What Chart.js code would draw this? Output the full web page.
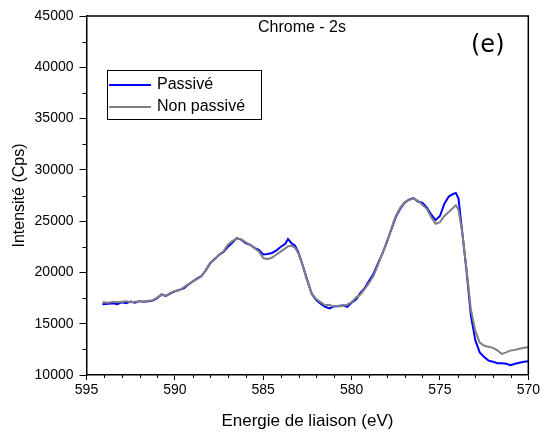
<!DOCTYPE html>
<html><head><meta charset="utf-8">
<script src="https://cdn.jsdelivr.net/npm/chart.js@4"></script>
<style>html,body{margin:0;padding:0;background:#fff}canvas{display:block}</style>
</head><body>
<canvas id="c" width="542" height="432"></canvas>
<script>
const energies = [594.1,593.75,593.5,593.25,593.0,592.75,592.5,592.25,592.0,591.75,591.5,591.25,591.0,590.75,590.5,590.25,590.0,589.75,589.5,589.25,589.0,588.75,588.5,588.25,588.0,587.75,587.5,587.25,587.0,586.75,586.5,586.25,586.0,585.75,585.5,585.25,585.0,584.75,584.5,584.25,584.0,583.75,583.6,583.4,583.2,583.0,582.75,582.5,582.25,582.0,581.75,581.5,581.25,581.0,580.75,580.5,580.25,580.0,579.75,579.5,579.25,579.0,578.75,578.5,578.25,578.0,577.75,577.5,577.25,577.0,576.75,576.5,576.25,576.0,575.75,575.5,575.25,575.0,574.75,574.5,574.25,574.1,573.95,573.75,573.5,573.25,573.0,572.75,572.5,572.25,572.0,571.75,571.5,571.25,571.0,570.75,570.5,570.25,570.0];
const passive = [16900,16950,17000,16900,17100,17000,17150,17050,17200,17150,17200,17250,17500,17850,17700,17950,18150,18300,18450,18800,19100,19400,19650,20200,20900,21300,21700,22000,22500,22900,23350,23200,22850,22700,22400,22200,21750,21800,21900,22150,22500,22800,23250,22850,22600,21900,20600,19200,17900,17300,16950,16650,16500,16700,16700,16800,16650,17050,17350,18000,18500,19200,19900,20900,21850,23000,24200,25400,26200,26800,27100,27250,26900,26800,26350,25650,25100,25500,26700,27400,27650,27750,27200,24100,20200,15800,13400,12200,11750,11400,11300,11150,11150,11100,10950,11100,11200,11300,11350];
const nonPassive = [17100,17050,17150,17100,17150,17200,17100,17150,17200,17200,17250,17300,17550,17800,17750,18000,18200,18250,18550,18850,19100,19350,19600,20250,20950,21250,21750,22050,22700,23050,23300,23250,22950,22700,22350,22050,21400,21300,21450,21750,22050,22350,22550,22600,22400,21800,20550,19100,17950,17400,17100,16800,16850,16650,16750,16750,16850,17100,17550,17850,18400,19000,19700,20750,21900,22900,24300,25500,26300,26850,27050,27200,27000,26600,26200,25400,24750,24900,25500,25900,26300,26550,26100,24000,20400,16400,14300,13150,12850,12750,12650,12400,12050,12200,12400,12450,12550,12650,12700];
const xTickValues = [595,590,585,580,575,570];
const yTickValues = [10000,15000,20000,25000,30000,35000,40000,45000];
const seriesNames = ['Passivé','Non passivé'];
const chartTitle = 'Chrome - 2s';
const panelLabel = '(e)';

const FONT = "'Liberation Sans', Arial, sans-serif";
const toPts = arr => energies.map((e,i)=>({x:e,y:arr[i]}));

const decor = {
  id:'decor',
  afterDraw(chart){
    const {ctx, chartArea:a, scales:{x,y}} = chart;
    ctx.save();
    ctx.strokeStyle='#000';
    ctx.lineWidth=1.5;
    ctx.beginPath();
    ctx.moveTo(a.left, a.top); ctx.lineTo(a.right, a.top); ctx.lineTo(a.right, a.bottom);
    ctx.stroke();
    // minor ticks
    ctx.lineWidth=1;
    ctx.beginPath();
    for(let v=571; v<595; v++){
      if(v%5===0) continue;
      const px = Math.round(x.getPixelForValue(v))+0.5;
      ctx.moveTo(px, a.bottom); ctx.lineTo(px, a.bottom+3);
    }
    for(let v=12500; v<45000; v+=5000){
      const py = Math.round(y.getPixelForValue(v))+0.5;
      ctx.moveTo(a.left, py); ctx.lineTo(a.left-4, py);
    }
    ctx.stroke();
    // title
    ctx.fillStyle='#000';
    ctx.font = "16px "+FONT;
    ctx.textAlign='center'; ctx.textBaseline='middle';
    ctx.fillText(chartTitle, 302, 28);
    ctx.font = "24px 'DejaVu Sans', sans-serif";
    ctx.textAlign='left';
    ctx.fillText(panelLabel, 471, 46);
    // legend
    ctx.lineWidth=1;
    ctx.strokeRect(107.5, 70.5, 154, 49);
    const cols = ['#0000ff','#808080'];
    const ys = [85, 107];
    ctx.font = "16px "+FONT;
    ctx.textBaseline='middle';
    for(let i=0;i<2;i++){
      ctx.strokeStyle=cols[i]; ctx.lineWidth=2;
      ctx.beginPath(); ctx.moveTo(109, ys[i]); ctx.lineTo(151, ys[i]); ctx.stroke();
      ctx.fillText(seriesNames[i], 157, ys[i]);
    }
    ctx.restore();
  }
};

new Chart(document.getElementById('c'), {
  type:'line',
  data:{datasets:[
    {label:seriesNames[1], data:toPts(nonPassive), borderColor:'#808080', borderWidth:2, pointRadius:0, tension:0, fill:false},
    {label:seriesNames[0], data:toPts(passive), borderColor:'#0000ff', borderWidth:2, pointRadius:0, tension:0, fill:false}
  ]},
  options:{
    responsive:false, animation:false,
    devicePixelRatio:1,
    layout:{padding:{left:0,right:13,top:16,bottom:0}},
    plugins:{legend:{display:false}, tooltip:{enabled:false}},
    scales:{
      x:{type:'linear', reverse:true, min:570, max:595,
        afterBuildTicks(s){ s.ticks = xTickValues.map(v=>({value:v})); },
        afterFit(s){ s.height = 57; },
        ticks:{color:'#000', font:{family:FONT, size:14}, padding:2, maxRotation:0, autoSkip:false, callback:v=>String(v)},
        grid:{drawOnChartArea:false, tickLength:5, color:'#000', tickColor:'#000'},
        border:{color:'#000', width:1.5},
        title:{display:true, text:'Energie de liaison (eV)', color:'#000', font:{family:FONT, size:17}, padding:{top:2,bottom:0}}
      },
      y:{type:'linear', min:10000, max:45000,
        afterBuildTicks(s){ s.ticks = yTickValues.map(v=>({value:v})); },
        afterFit(s){ s.width = 86.5; },
        ticks:{color:'#000', font:{family:FONT, size:14}, padding:6, autoSkip:false, callback:v=>String(v)},
        grid:{drawOnChartArea:false, tickLength:7, color:'#000', tickColor:'#000'},
        border:{color:'#000', width:1.5},
        title:{display:true, text:'Intensité (Cps)', color:'#000', font:{family:FONT, size:16}, padding:{top:10,bottom:0}}
      }
    }
  },
  plugins:[decor]
});
</script>
</body></html>
